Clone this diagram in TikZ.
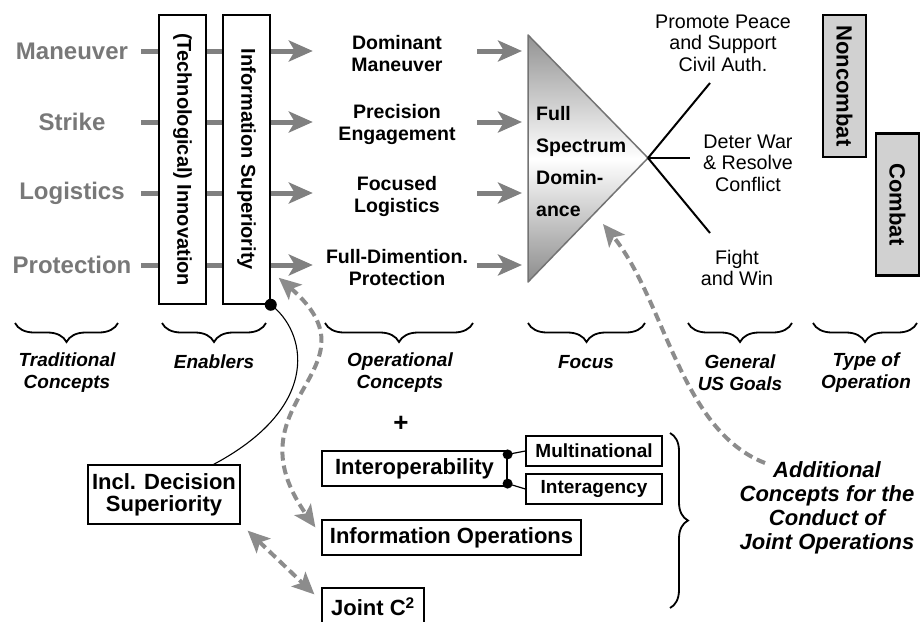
\documentclass[tikz,border=0pt]{standalone}
\usepackage{graphicx}
\usepackage{fontspec}
\setmainfont{Liberation Sans}
\usetikzlibrary{arrows.meta,decorations.pathreplacing}
\definecolor{lblgray}{gray}{0.47}
\definecolor{arrgray}{gray}{0.5}
\definecolor{dashgray}{gray}{0.55}
\definecolor{boxgray}{gray}{0.82}
\begin{document}
\begin{tikzpicture}[x=1pt,y=1pt]
\tikzstyle{every node}+=[inner sep=0pt]
\tikzstyle{tradlbl}=[text=lblgray,font=\fontsize{24}{28}\selectfont\bfseries,minimum width=130pt]
\tikzstyle{opconcept}=[font=\fontsize{19.5}{22}\selectfont\bfseries,align=center,text width=150pt]
\tikzstyle{vbox}=[draw,line width=1.5pt,fill=white,minimum width=47pt,minimum height=289pt,font=\fontsize{20}{24}\selectfont\bfseries]
\tikzstyle{optypebox}=[draw,line width=2.5pt,fill=boxgray,minimum width=43pt,minimum height=142pt,font=\fontsize{22}{24}\selectfont\bfseries]
\tikzstyle{goal}=[font=\fontsize{19.7}{21.5}\selectfont,align=center]
\tikzstyle{bracelbl}=[font=\fontsize{19}{22}\selectfont\bfseries\itshape,align=center]
\tikzstyle{conceptbrace}=[decorate,decoration={brace,mirror,amplitude=19pt},line width=1.8pt]
\tikzstyle{conbox}=[draw,line width=1.2pt,minimum height=35pt,font=\fontsize{22}{24}\selectfont\bfseries]
\tikzstyle{subbox}=[draw,line width=1.2pt,minimum width=136pt,minimum height=30pt,font=\fontsize{19}{22}\selectfont\bfseries]
\tikzstyle{rowarrow}=[arrgray,line width=5pt,-{Stealth[length=24pt,width=21pt,inset=6pt]}]
\tikzstyle{dashline}=[dashgray,line width=4pt,dash pattern=on 9pt off 5pt]
\useasboundingbox (0,0) rectangle (920,-621);
\node[tradlbl] (man) at (72,-51) {Maneuver};
\node[tradlbl] (strike) at (72,-122) {Strike};
\node[tradlbl] (logi) at (72,-193) {Logistics};
\node[tradlbl] (prot) at (72,-265) {Protection};
\node[opconcept] (domman) at (397,-54) {Dominant\\Maneuver};
\node[opconcept] (preceng) at (397,-124.5) {Precision\\Engagement};
\node[opconcept] (foclog) at (397,-196) {Focused\\Logistics};
\node[opconcept] (fdprot) at (397,-267.5) {Full-Dimention.\\Protection};
\coordinate (triNW) at (528,-35);
\coordinate (triSW) at (528,-282);
\coordinate (apex) at (648,-158);
\draw[rowarrow,shorten <=4pt,shorten >=9pt] (man.east) -- (man.east -| domman.west);
\draw[rowarrow,shorten <=4pt,shorten >=9pt] (strike.east) -- (strike.east -| preceng.west);
\draw[rowarrow,shorten <=4pt,shorten >=9pt] (logi.east) -- (logi.east -| foclog.west);
\draw[rowarrow,shorten <=4pt,shorten >=9pt] (prot.east) -- (prot.east -| fdprot.west);
\draw[rowarrow,shorten <=5pt,shorten >=6pt] (man.east -| domman.east) -- (man.east -| triNW);
\draw[rowarrow,shorten <=5pt,shorten >=6pt] (strike.east -| preceng.east) -- (strike.east -| triNW);
\draw[rowarrow,shorten <=5pt,shorten >=6pt] (logi.east -| foclog.east) -- (logi.east -| triNW);
\draw[rowarrow,shorten <=5pt,shorten >=6pt] (prot.east -| fdprot.east) -- (prot.east -| triNW);
\node[vbox] (innov) at (182.5,-159.5) {\rotatebox{-90}{(Technological) Innovation}};
\node[vbox] (infsup) at (246.5,-159.5) {\rotatebox{-90}{Information Superiority}};
\shade[top color=gray!85,bottom color=gray!90,middle color=white] (triNW) -- (apex) -- (triSW) -- cycle;
\draw[gray!90!black,line width=1.5pt,line join=round] (triNW) -- (apex) -- (triSW) -- cycle;
\node[anchor=west,align=left,font=\fontsize{19.5}{32}\selectfont\bfseries] (fsd) at (536,-161.5) {Full\\Spectrum\\Domin-\\ance};
\node[goal] (promote) at (723,-43) {Promote Peace\\and Support\\Civil Auth.};
\node[goal] (deter) at (748,-163) {Deter War\\\& Resolve\\Conflict};
\node[goal] (fight) at (737,-268) {Fight\\and Win};
\coordinate (g1) at (710,-83);
\coordinate (g2) at (690,-158);
\coordinate (g3) at (710,-233);
\draw[line width=2pt] (apex) -- (g1);
\draw[line width=2pt] (apex) -- (g2);
\draw[line width=2pt] (apex) -- (g3);
\node[optypebox] (noncombat) at (844.5,-86) {\rotatebox{-90}{Noncombat}};
\node[optypebox] (combat) at (897.5,-204.5) {\rotatebox{-90}{Combat}};
\draw[conceptbrace] (15,-323) -- (118,-323);
\draw[conceptbrace] (162,-323) -- (266,-323);
\draw[conceptbrace] (325,-323) -- (473,-323);
\draw[conceptbrace] (528,-323) -- (645,-323);
\draw[conceptbrace] (688,-323) -- (792,-323);
\draw[conceptbrace] (813,-323) -- (917,-323);
\node[bracelbl] (trad) at (67,-373) {Traditional\\Concepts};
\node[bracelbl] (enab) at (214,-362) {Enablers};
\node[bracelbl] (opcon) at (400,-373) {Operational\\Concepts};
\node[bracelbl] (focus) at (586,-362) {Focus};
\node[bracelbl] (goals) at (740,-373) {General\\US Goals};
\node[bracelbl] (optype) at (866,-373) {Type of\\Operation};
\node[font=\fontsize{26}{28}\selectfont\bfseries] (plus) at (401,-424) {+};
\node[conbox,minimum width=185pt] (interop) at (414.5,-468.5) {Interoperability};
\node[subbox] (multi) at (594,-451) {Multinational};
\node[subbox] (inter) at (594,-489) {Interagency};
\node[conbox,minimum width=259pt] (infops) at (451.5,-537.5) {Information Operations};
\node[conbox,minimum width=102pt,minimum height=37pt] (joint) at (373,-606.5) {Joint C\textsuperscript{2}};
\node[conbox,minimum width=152pt,minimum height=59pt,align=center,font=\fontsize{22}{22}\selectfont\bfseries] (incl) at (164,-494.5) {Incl. Decision\\Superiority};
\coordinate (d1) at ([yshift=-4pt]interop.north east);
\coordinate (d2) at ([yshift=3pt]interop.south east);
\draw[line width=1.2pt] (d1) -- (d2);
\draw[line width=1.2pt] (d1) -- (multi.west);
\draw[line width=1.2pt] (d2) -- (inter.west);
\fill (d1) circle (5);
\fill (d2) circle (5);
\draw[decorate,decoration={brace,amplitude=18pt},line width=1.8pt] (670,-433) -- (670,-608);
\node[font=\fontsize{22}{24}\selectfont\bfseries\itshape,align=center] (addl) at (827,-508) {Additional\\Concepts for the\\Conduct of\\Joint Operations};
\draw[line width=1.1pt] (infsup.south east) .. controls (305,-330) and (325,-405) .. ([xshift=-27pt]incl.north east);
\fill (infsup.south east) circle (6);
\draw[dashline,{Stealth[length=22pt,width=20pt,inset=5pt]}-{Stealth[length=22pt,width=20pt,inset=5pt]}] ([shift={(8pt,27pt)}]infsup.south east) .. controls (385,-370) and (225,-400) .. ([shift={(-6pt,-8pt)}]infops.north west);
\draw[dashline,{Stealth[length=22pt,width=20pt,inset=5pt]}-{Stealth[length=22pt,width=20pt,inset=5pt]}] ([shift={(7pt,-6pt)}]incl.south east) -- ([shift={(-7pt,-7pt)}]joint.north west);
\coordinate (addlstart) at (765,-463);
\coordinate (fsdtip) at (603,-224);
\draw[dashline,-{Stealth[length=22pt,width=20pt,inset=5pt]}] (addlstart) .. controls (680,-430) and (665,-300) .. (fsdtip);
\end{tikzpicture}
\end{document}
